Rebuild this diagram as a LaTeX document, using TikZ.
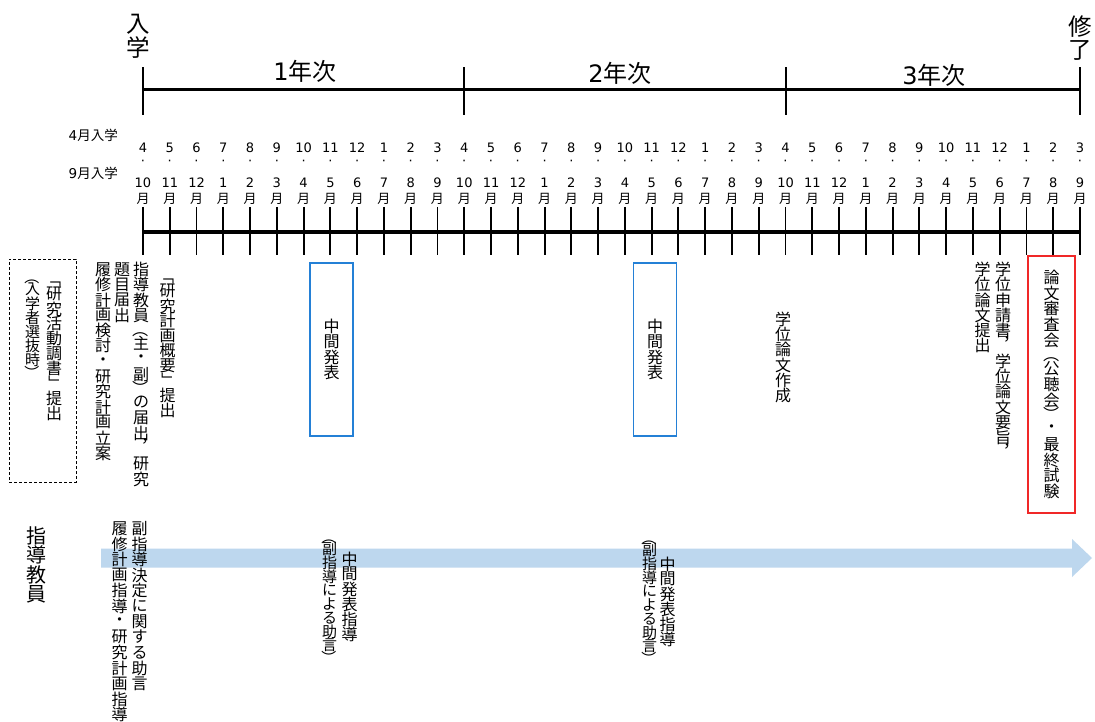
\documentclass[tikz,border=0pt]{standalone}
\usepackage{fontspec}
\usepackage{graphicx}
\setmainfont{Noto Sans CJK JP}
\newfontfamily\dv{DejaVu Sans}
\newdimen\vtp
\def\vtend{VTEND}
\def\vtloop#1{\ifx#1\vtend\else\ifcat\noexpand#1\relax#1\else\vtc{#1}\fi\expandafter\vtloop\fi}
\newcommand\vt[2][15.3pt]{\vbox{\offinterlineskip\vtp=#1\relax\vtloop#2\vtend}}
\def\vtc#1{\hbox to 1em{\hss\vbox to\vtp{\vss\hbox{#1}\vss}\hss}}
\def\vtcs#1#2{\hbox to 1em{\hss\vbox to #1\vtp{\vss\hbox{#2}\vss}\hss}}
\def\vlp{\vtcs{0.85}{\rotatebox{-90}{（}}}
\def\vrp{\vtcs{0.85}{\rotatebox{-90}{）}}}
\def\vlb{\vtcs{1}{\rotatebox{-90}{「}}}
\def\vrb{\vtcs{1}{\rotatebox{-90}{」}}}
\def\vcm{\vtcs{1}{\hbox to 1em{\hskip0.5em\rlap{\raisebox{0.65em}[0.8em][0.2em]{，}}\hss}}}
\definecolor{boxblue}{RGB}{36,128,214}
\definecolor{boxred}{RGB}{240,40,40}
\definecolor{arrowblue}{RGB}{189,215,238}
\tikzset{
  vtxt/.style={inner sep=0pt, anchor=north, font=\fontsize{16}{17}\selectfont},
  vtxtc/.style={inner sep=0pt, font=\fontsize{16}{17}\selectfont},
  small/.style={font=\fontsize{15}{16}\selectfont},
  mon/.style={inner sep=0pt, font=\dv\fontsize{13}{13}\selectfont},
  tsuki/.style={inner sep=0pt, font=\fontsize{13}{13}\selectfont},
  ylab/.style={inner sep=0pt, font=\fontsize{24}{24}\selectfont},
  big/.style={inner sep=0pt, font=\fontsize{23.5}{24}\selectfont},
  ytick/.style={line width=2pt},
  mtick/.style={line width=1.9pt},
  dashbox/.style={draw, line width=0.9pt, dash pattern=on 3pt off 2pt, inner sep=0pt},
  bluebox/.style={draw=boxblue, line width=1.2pt, inner sep=0pt, minimum width=43pt, minimum height=173pt, font=\fontsize{16}{17}\selectfont},
  redbox/.style={draw=boxred, line width=1.2pt, inner sep=0pt, minimum width=47pt, minimum height=257pt, font=\fontsize{16}{17}\selectfont},
}
\begin{document}
\begin{tikzpicture}[x=1pt,y=-1pt]
\useasboundingbox (0,0) rectangle (1095,722);
\clip (0,0) rectangle (1095,722);
\fill[white] (0,0) rectangle (1095,722);

% top: year line
\node[big] (nyu) at (138,36) {\vt[24pt]{入学}};
\node[big] (shu) at (1080,38.5) {\vt[24pt]{修了}};
\coordinate (y0) at (143,90);
\coordinate (y1) at (464.26,90);
\coordinate (y2) at (785.51,90);
\coordinate (y3) at (1080,90);
\draw[line width=3pt] (y0) -- (y3);
\foreach \c in {y0,y1,y2,y3}{\draw[ytick] ([yshift=-25pt]\c) -- ([yshift=23pt]\c);}
\node[ylab] (yr1) at (305,71) {{\dv 1}年次};
\node[ylab] (yr2) at (620,73) {{\dv 2}年次};
\node[ylab] (yr3) at (934,75) {{\dv 3}年次};

% month rows
\node[inner sep=0pt, anchor=east, font=\fontsize{13.5}{14}\selectfont] (a4) at (118,135) {{\dv 4}月入学};
\node[inner sep=0pt, anchor=east, font=\fontsize{13.5}{14}\selectfont] (a9) at (118,173) {{\dv 9}月入学};
\draw[line width=3.3pt] (143,232) -- (1080,232);
\foreach \i in {0,...,35}{
  \pgfmathsetmacro\xx{143+\i*26.7714}
  \pgfmathtruncatemacro\ma{mod(\i+3,12)+1}
  \pgfmathtruncatemacro\mb{mod(\i+9,12)+1}
  \node[mon] (ma\i) at (\xx,148) {\ma};
  \node[mon] (md\i) at (\xx,163) {·};
  \node[mon] (mb\i) at (\xx,183) {\mb};
  \node[tsuki] (mt\i) at (\xx,199) {月};
  \draw[mtick] (\xx,207) -- (\xx,255);
}

% guidance arrow
\fill[arrowblue] (101,548.5) -- (1072,548.5) -- (1072,539) -- (1092,558) -- (1072,577) -- (1072,567.5) -- (101,567.5) -- cycle;

% lower boxes and texts
\node[dashbox, minimum width=67pt, minimum height=223pt] (db) at (42.5,370.5) {};
\node[vtxt] (ta) at (54,271.5) {\vt[14.9pt]{\vlb 研究活動調書\vrb 提出}};
\node[vtxt, small] (tb) at (32.5,270.5) {\vt[14pt]{\vlp 入学者選抜時\vrp}};
\node[vtxt] (tc) at (141,261.5) {\vt{指導教員\vlp 主・副\vrp の届出\vcm 研究}};
\node[vtxt] (td) at (122,261.5) {\vt{題目届出}};
\node[vtxt] (te) at (103,261.5) {\vt{履修計画検討・研究計画立案}};
\node[vtxt] (tf) at (167.5,268.5) {\vt[14.9pt]{\vlb 研究計画概要\vrb 提出}};
\node[bluebox] (m1) at (331.5,349.5) {\vt{中間発表}};
\node[bluebox] (m2) at (655,349.5) {\vt{中間発表}};
\node[vtxtc] (tg) at (783,357.5) {\vt{学位論文作成}};
\node[vtxt] (th) at (1003,261.5) {\vt{学位申請書\vcm 学位論文要旨\vcm}};
\node[vtxt] (ti) at (982.5,261.5) {\vt{学位論文提出}};
\node[redbox] (rb) at (1051.5,384.5) {\vt[15.6pt]{論文審査会\vlp 公聴会\vrp ・最終試験}};

\node[inner sep=0pt, font=\fontsize{20}{21}\selectfont] (tk) at (36,565) {\vt[19.5pt]{指導教員}};
\node[vtxt] (tl) at (139.5,520.5) {\vt[15.5pt]{副指導決定に関する助言}};
\node[vtxt] (tm) at (119.5,520.5) {\vt[15.5pt]{履修計画指導・研究計画指導}};
\node[vtxt] (tn1) at (349.5,551.5) {\vt[15pt]{中間発表指導}};
\node[vtxt, small] (to1) at (329.5,530.5) {\vt[13.7pt]{\vlp 副指導による助言\vrp}};
\node[vtxt] (tn2) at (667.5,556.5) {\vt[15pt]{中間発表指導}};
\node[vtxt, small] (to2) at (649.5,531.5) {\vt[13.7pt]{\vlp 副指導による助言\vrp}};
\end{tikzpicture}
\end{document}
